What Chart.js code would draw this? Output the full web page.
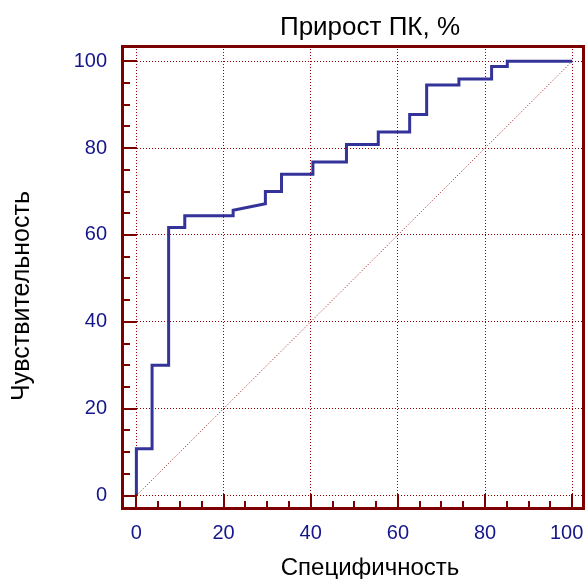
<!DOCTYPE html>
<html>
<head>
<meta charset="utf-8">
<script src="https://cdn.jsdelivr.net/npm/chart.js@4/dist/chart.umd.min.js"></script>
<style>
html,body{margin:0;padding:0;background:#fff;}
#wrap{width:586px;height:579px;}
</style>
</head>
<body>
<div id="wrap"><canvas id="c" width="586" height="579"></canvas></div>
<script>
// ---- data ----
const chartTitle = "Прирост ПК, %";
const xTitle = "Специфичность";
const yTitle = "Чувствительность";
const rocX = [0, 0, 3.6, 3.6, 7.4, 7.4, 11.1, 11.1, 22.2, 22.2, 29.6, 29.6, 33.3, 33.3, 40.5, 40.5, 48.2, 48.2, 55.5, 55.5, 62.7, 62.7, 66.6, 66.6, 74.0, 74.0, 81.5, 81.5, 85.1, 85.1, 100];
const rocY = [0, 10.8, 10.8, 30.0, 30.0, 61.7, 61.7, 64.4, 64.4, 65.7, 67.2, 70.0, 70.0, 74.0, 74.0, 76.8, 76.8, 80.8, 80.8, 83.7, 83.7, 87.7, 87.7, 94.5, 94.5, 95.9, 95.9, 98.8, 98.8, 100, 100];
const diagX = [0, 100];
const diagY = [0, 100];
const majorTicks = [0, 20, 40, 60, 80, 100];
const minorTicks = [5, 10, 15, 25, 30, 35, 45, 50, 55, 65, 70, 75, 85, 90, 95];

const frameColor = '#7d0000';
const tickColor = '#15158c';
const fontFamily = '"Liberation Sans", Arial, sans-serif';

const toPts = (xs, ys) => xs.map((x, i) => ({x: x, y: ys[i]}));

const framePlugin = {
  id: 'frame',
  afterDraw(chart) {
    const ctx = chart.ctx;
    const a = chart.chartArea;
    const xs = chart.scales.x, ys = chart.scales.y;
    ctx.save();
    // inward ticks
    ctx.strokeStyle = frameColor;
    ctx.lineWidth = 2;
    ctx.beginPath();
    majorTicks.forEach(v => {
      const py = Math.round(ys.getPixelForValue(v));
      ctx.moveTo(a.left, py); ctx.lineTo(a.left + 15, py);
      const px = Math.round(xs.getPixelForValue(v));
      ctx.moveTo(px, a.bottom); ctx.lineTo(px, a.bottom - 15);
    });
    minorTicks.forEach(v => {
      const py = Math.round(ys.getPixelForValue(v));
      ctx.moveTo(a.left, py); ctx.lineTo(a.left + 8, py);
      const px = Math.round(xs.getPixelForValue(v));
      ctx.moveTo(px, a.bottom); ctx.lineTo(px, a.bottom - 8);
    });
    ctx.stroke();
    // frame
    ctx.lineWidth = 3;
    ctx.strokeRect(a.left + 0.5, a.top + 0.5, a.right - a.left - 1, a.bottom - a.top - 1);
    // titles
    ctx.fillStyle = '#000';
    ctx.textAlign = 'center';
    ctx.textBaseline = 'middle';
    ctx.font = '26px ' + fontFamily;
    ctx.fillText(chartTitle, 370, 28);
    ctx.font = '24px ' + fontFamily;
    ctx.fillText(xTitle, 370, 568);
    ctx.font = '25px ' + fontFamily;
    ctx.translate(22, 296);
    ctx.rotate(-Math.PI / 2);
    ctx.fillText(yTitle, 0, 0);
    ctx.restore();
  }
};

new Chart(document.getElementById('c'), {
  type: 'scatter',
  data: {
    datasets: [
      {
        data: toPts(diagX, diagY),
        showLine: true,
        borderColor: '#a01010',
        borderWidth: 1,
        borderDash: [1, 2],
        pointRadius: 0,
        order: 2
      },
      {
        data: toPts(rocX, rocY),
        showLine: true,
        borderColor: '#333399',
        borderWidth: 3,
        pointRadius: 0,
        tension: 0,
        order: 1
      }
    ]
  },
  options: {
    responsive: false,
    animation: false,
    devicePixelRatio: 1,
    layout: {padding: {left: 0, top: 46, right: 2, bottom: 0}},
    plugins: {legend: {display: false}, tooltip: {enabled: false}, title: {display: false}},
    scales: {
      x: {
        type: 'linear',
        min: -3.3, max: 102.7,
        afterBuildTicks: s => { s.ticks = majorTicks.map(v => ({value: v})); },
        afterFit: s => { s.height = 70; s.paddingLeft = 0; s.paddingRight = 0; },
        border: {display: false, dash: [1, 2]},
        grid: {color: '#9a0000', lineWidth: 1, drawTicks: false},
        ticks: {
          color: tickColor, font: {size: 20, family: fontFamily}, padding: 12, maxRotation: 0,
          callback: v => (v === 100 ? String(v) + '  ' : String(v))
        }
      },
      y: {
        type: 'linear',
        min: -3.1, max: 103.5,
        afterBuildTicks: s => { s.ticks = majorTicks.map(v => ({value: v})); },
        afterFit: s => { s.width = 122; s.paddingTop = 0; s.paddingBottom = 0; },
        border: {display: false, dash: [1, 2]},
        grid: {color: '#9a0000', lineWidth: 1, drawTicks: false},
        ticks: {color: tickColor, font: {size: 20, family: fontFamily}, padding: 15}
      }
    }
  },
  plugins: [framePlugin]
});
</script>
</body>
</html>
